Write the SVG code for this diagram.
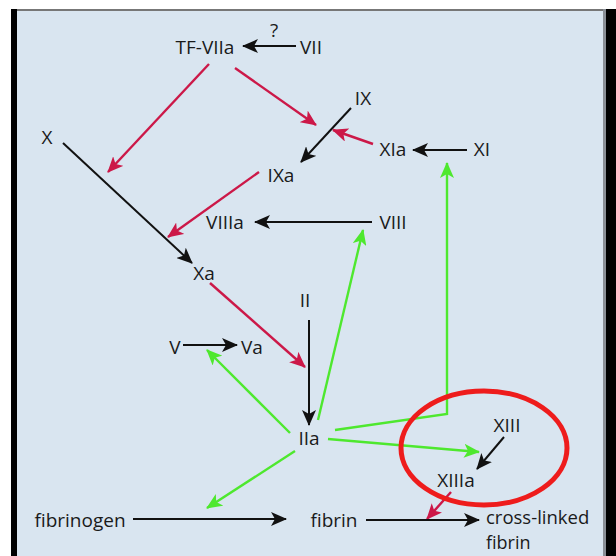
<svg xmlns="http://www.w3.org/2000/svg" width="616" height="556" viewBox="0 0 616 556">
<defs>
<style>
text{font-family:"Open Sans","Liberation Sans",sans-serif;font-size:19px;fill:#1a1a1a;text-anchor:middle}
.k{stroke:#111;stroke-width:2;fill:none}
.r{stroke:#cc1848;stroke-width:2.4;fill:none}
.g{stroke:#4ee82e;stroke-width:2.4;fill:none}
</style>
<marker id="ab" viewBox="0 0 16 14" refX="15" refY="7" markerWidth="16" markerHeight="14" markerUnits="userSpaceOnUse" orient="auto"><path d="M0,0 L16,7 L0,14 L4,7 z" fill="#111"/></marker>
<marker id="ar" viewBox="0 0 16 14" refX="15" refY="7" markerWidth="16" markerHeight="14" markerUnits="userSpaceOnUse" orient="auto"><path d="M0,0 L16,7 L0,14 L4,7 z" fill="#cc1848"/></marker>
<marker id="ag" viewBox="0 0 16 14" refX="15" refY="7" markerWidth="16" markerHeight="14" markerUnits="userSpaceOnUse" orient="auto"><path d="M0,0 L16,7 L0,14 L4,7 z" fill="#4ee82e"/></marker>
</defs>
<rect width="616" height="556" fill="#fff"/>
<rect x="12" y="9" width="596" height="547" fill="#d9e5f0"/>
<rect x="12" y="9" width="596" height="2" fill="#777"/>
<rect x="11" y="9" width="6" height="547" fill="#000"/>
<rect x="603" y="9" width="3" height="547" fill="#8a8f96"/>
<rect x="606" y="9" width="10" height="547" fill="#000"/>
<g id="connectors">
<line class="k" x1="296" y1="46" x2="243" y2="46" marker-end="url(#ab)"/>
<line class="r" x1="209" y1="64" x2="108" y2="172" marker-end="url(#ar)"/>
<line class="r" x1="235" y1="68" x2="316" y2="125" marker-end="url(#ar)"/>
<line class="k" x1="351" y1="108" x2="301" y2="162" marker-end="url(#ab)"/>
<line class="r" x1="373" y1="144" x2="333" y2="130" marker-end="url(#ar)"/>
<line class="k" x1="467" y1="150" x2="413" y2="150" marker-end="url(#ab)"/>
<line class="r" x1="259" y1="172" x2="168" y2="237" marker-end="url(#ar)"/>
<line class="k" x1="63" y1="143" x2="192" y2="263" marker-end="url(#ab)"/>
<line class="k" x1="372" y1="222" x2="255" y2="222" marker-end="url(#ab)"/>
<line class="r" x1="210" y1="283" x2="305" y2="367" marker-end="url(#ar)"/>
<line class="k" x1="309" y1="320" x2="309" y2="425" marker-end="url(#ab)"/>
<line class="k" x1="183" y1="345" x2="237" y2="345" marker-end="url(#ab)"/>
<line class="g" x1="290" y1="433" x2="207" y2="350" marker-end="url(#ag)"/>
<line class="g" x1="318" y1="420" x2="363" y2="230" marker-end="url(#ag)"/>
<polyline class="g" points="335,430 447,414 447,163" marker-end="url(#ag)"/>
<line class="g" x1="328" y1="439" x2="479" y2="452" marker-end="url(#ag)"/>
<line class="g" x1="295" y1="451" x2="207" y2="508" marker-end="url(#ag)"/>
<line class="k" x1="504" y1="437" x2="477" y2="469" marker-end="url(#ab)"/>
<line class="r" x1="451" y1="492" x2="427" y2="519" marker-end="url(#ar)"/>
<line class="k" x1="133" y1="519" x2="286" y2="519" marker-end="url(#ab)"/>
<line class="k" x1="366" y1="520" x2="479" y2="520" marker-end="url(#ab)"/>
</g>
<g id="n-q"><text x="274" y="37">?</text></g>
<g id="n-tfviia"><text x="205" y="54">TF-VIIa</text></g>
<g id="n-vii"><text x="311" y="54">VII</text></g>
<g id="n-ix"><text x="363" y="105">IX</text></g>
<g id="n-x"><text x="47" y="144">X</text></g>
<g id="n-xia"><text x="393" y="156">XIa</text></g>
<g id="n-xi"><text x="482" y="156">XI</text></g>
<g id="n-ixa"><text x="281" y="182">IXa</text></g>
<g id="n-viiia"><text x="225" y="229">VIIIa</text></g>
<g id="n-viii"><text x="393" y="229">VIII</text></g>
<g id="n-xa"><text x="204" y="280">Xa</text></g>
<g id="n-ii"><text x="305" y="307">II</text></g>
<g id="n-v"><text x="175" y="354">V</text></g>
<g id="n-va"><text x="252" y="354">Va</text></g>
<g id="n-iia"><text x="309" y="445">IIa</text></g>
<g id="n-xiii"><text x="507" y="432">XIII</text></g>
<g id="n-xiiia"><text x="456" y="487">XIIIa</text></g>
<g id="n-fibrinogen"><text x="80" y="527">fibrinogen</text></g>
<g id="n-fibrin"><text x="334" y="527">fibrin</text></g>
<g id="n-crosslinked"><text x="486" y="524" style="text-anchor:start;font-size:18.5px">cross-linked</text><text x="486" y="549" style="text-anchor:start;font-size:18px">fibrin</text></g>
<ellipse cx="484" cy="448" rx="83" ry="57" fill="none" stroke="#ee1c1c" stroke-width="5"/>
</svg>
